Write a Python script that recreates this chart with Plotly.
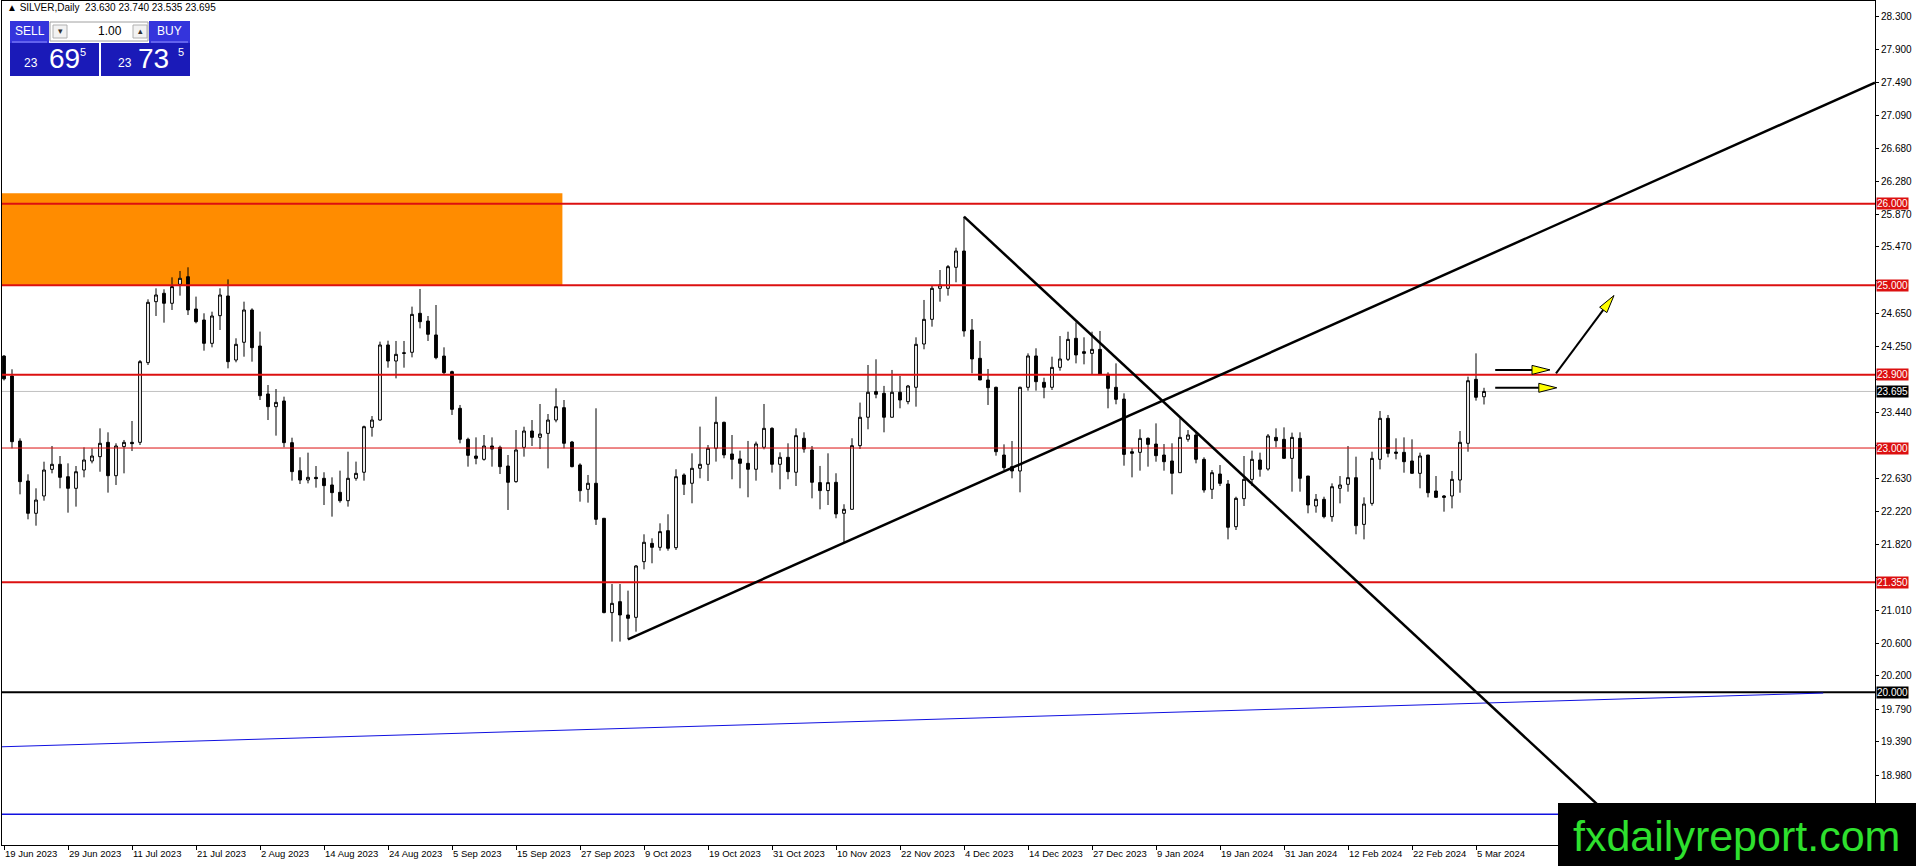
import plotly.graph_objects as go

# daily bars, bar 0 = 19 Jun 2023 ... bar 185 = 6 Mar 2024
opens = [
    24.130, 23.885, 23.086, 22.595, 22.198, 22.411, 22.738, 22.800, 22.648, 22.505,
    22.730, 22.841, 22.894, 23.070, 22.660, 23.017, 23.070, 23.070, 24.049, 24.798,
    24.901, 24.778, 25.011, 25.105, 24.708, 24.573, 24.286, 24.626, 24.868, 24.081,
    24.299, 24.696, 24.253, 23.664, 23.508, 23.578, 23.066, 22.722, 22.607, 22.640,
    22.628, 22.546, 22.456, 22.353, 22.628, 22.702, 23.254, 23.344, 24.266, 24.069,
    24.171, 24.176, 24.655, 24.560, 24.389, 24.130, 23.938, 23.488, 23.107, 22.902,
    22.861, 23.025, 23.008, 22.779, 22.587, 23.008, 23.209, 23.131, 23.180, 23.344,
    23.496, 23.074, 22.792, 22.493, 22.567, 22.137, 20.978, 21.113, 20.949, 20.920,
    21.604, 21.829, 21.780, 21.985, 21.776, 22.669, 22.567, 22.751, 22.800, 22.997,
    23.316, 22.927, 22.866, 22.812, 22.739, 23.009, 23.242, 22.800, 22.886, 22.702,
    23.120, 22.976, 22.575, 22.477, 22.579, 22.198, 22.247, 23.029, 23.378, 23.693,
    23.672, 23.378, 23.685, 23.570, 23.746, 24.278, 24.581, 24.962, 24.962, 25.220,
    25.420, 24.450, 24.102, 23.836, 23.746, 22.914, 22.771, 22.718, 23.746, 24.131,
    23.807, 23.746, 23.991, 24.090, 24.348, 24.184, 24.163, 24.212, 23.905, 23.746,
    23.602, 22.955, 22.947, 23.119, 23.049, 22.914, 22.841, 22.697, 23.107, 23.160,
    22.861, 22.493, 22.681, 22.558, 22.034, 22.378, 22.615, 22.853, 22.742, 23.131,
    23.107, 22.873, 23.119, 22.656, 22.288, 22.370, 22.157, 22.505, 22.554, 22.636,
    22.062, 22.320, 22.861, 23.365, 22.951, 22.947, 22.841, 22.689, 22.914, 22.472,
    22.411, 22.411, 22.607, 23.058, 23.844, 23.630,
]
highs = [
    24.140, 23.967, 23.119, 22.677, 22.505, 22.832, 23.025, 22.902, 22.812, 22.779,
    23.008, 22.996, 23.242, 23.193, 23.058, 23.099, 23.332, 24.081, 24.827, 24.962,
    24.950, 25.097, 25.175, 25.220, 24.860, 24.655, 24.675, 24.962, 25.072, 24.348,
    24.798, 24.716, 24.430, 23.774, 23.725, 23.631, 23.127, 22.886, 22.943, 22.779,
    22.702, 22.640, 22.722, 22.955, 22.833, 23.275, 23.393, 24.307, 24.319, 24.315,
    24.315, 24.737, 24.954, 24.622, 24.757, 24.237, 23.950, 23.529, 23.127, 23.131,
    23.160, 23.131, 23.029, 22.914, 23.221, 23.262, 23.344, 23.541, 23.418, 23.733,
    23.590, 23.087, 22.812, 22.669, 23.488, 22.137, 21.330, 21.330, 21.248, 21.563,
    21.940, 21.891, 22.075, 22.186, 22.739, 22.689, 22.935, 23.263, 23.037, 23.631,
    23.324, 23.160, 22.968, 23.087, 23.079, 23.541, 23.255, 22.947, 23.058, 23.242,
    23.193, 23.025, 22.780, 22.935, 22.690, 22.309, 23.120, 23.558, 24.020, 24.090,
    23.763, 23.959, 23.885, 23.775, 24.360, 24.819, 24.991, 25.187, 25.248, 25.461,
    25.842, 24.585, 24.315, 23.971, 23.754, 23.045, 23.086, 23.754, 24.163, 24.225,
    23.864, 24.122, 24.376, 24.429, 24.544, 24.360, 24.429, 24.438, 23.930, 24.040,
    23.672, 22.996, 23.230, 23.131, 23.303, 23.049, 23.058, 23.365, 23.221, 23.201,
    22.886, 22.730, 22.791, 22.607, 22.402, 22.902, 22.968, 22.943, 23.172, 23.242,
    23.254, 23.189, 23.193, 22.656, 22.435, 22.402, 22.566, 22.656, 23.025, 22.894,
    22.394, 22.955, 23.455, 23.406, 23.119, 23.131, 23.107, 22.943, 22.914, 22.656,
    22.423, 22.718, 23.209, 23.877, 24.163, 23.740,
]
lows = [
    23.830, 22.996, 22.431, 22.124, 22.046, 22.353, 22.689, 22.505, 22.206, 22.280,
    22.640, 22.812, 22.709, 22.452, 22.546, 22.689, 22.963, 23.037, 24.020, 24.622,
    24.540, 24.696, 24.872, 24.634, 24.532, 24.196, 24.237, 24.450, 23.979, 24.053,
    24.122, 24.061, 23.590, 23.344, 23.152, 23.009, 22.599, 22.558, 22.566, 22.513,
    22.300, 22.157, 22.329, 22.280, 22.599, 22.599, 23.140, 23.336, 23.987, 23.856,
    23.987, 24.114, 24.470, 24.315, 24.090, 23.909, 23.406, 23.058, 22.771, 22.800,
    22.845, 22.771, 22.681, 22.239, 22.574, 22.894, 23.025, 22.988, 22.750, 23.316,
    22.997, 22.763, 22.341, 22.329, 22.055, 20.970, 20.622, 20.622, 20.650, 20.744,
    21.510, 21.584, 21.739, 21.739, 21.748, 22.423, 22.321, 22.628, 22.595, 22.833,
    22.874, 22.616, 22.505, 22.395, 22.599, 22.984, 22.698, 22.493, 22.616, 22.534,
    22.943, 22.382, 22.247, 22.300, 22.137, 21.838, 22.247, 22.988, 23.230, 23.611,
    23.193, 23.378, 23.488, 23.537, 23.508, 24.213, 24.491, 24.798, 24.872, 25.036,
    24.368, 23.918, 23.836, 23.529, 22.906, 22.730, 22.628, 22.456, 23.705, 23.705,
    23.611, 23.713, 23.950, 24.069, 24.040, 24.028, 23.897, 23.905, 23.488, 23.537,
    22.783, 22.640, 22.722, 22.771, 22.832, 22.722, 22.431, 22.697, 23.078, 22.812,
    22.452, 22.374, 22.533, 21.878, 21.993, 22.288, 22.533, 22.648, 22.722, 23.009,
    22.873, 22.464, 22.464, 22.198, 22.206, 22.136, 22.095, 22.320, 22.464, 21.940,
    21.878, 22.292, 22.738, 22.886, 22.861, 22.697, 22.689, 22.505, 22.394, 22.394,
    22.218, 22.259, 22.451, 22.955, 23.582, 23.535,
]
closes = [
    23.850, 23.078, 22.587, 22.198, 22.361, 22.730, 22.800, 22.640, 22.505, 22.709,
    22.853, 22.902, 23.058, 22.660, 23.025, 23.070, 23.054, 24.061, 24.790, 24.880,
    24.778, 24.983, 25.085, 24.696, 24.552, 24.286, 24.622, 24.880, 24.061, 24.274,
    24.696, 24.233, 23.643, 23.508, 23.561, 23.066, 22.710, 22.607, 22.640, 22.624,
    22.538, 22.452, 22.353, 22.628, 22.689, 23.262, 23.344, 24.266, 24.069, 24.151,
    24.163, 24.642, 24.552, 24.397, 24.110, 23.926, 23.475, 23.107, 22.910, 22.873,
    23.025, 22.988, 22.771, 22.579, 22.976, 23.209, 23.131, 23.172, 23.344, 23.508,
    23.058, 22.771, 22.476, 22.567, 22.124, 20.978, 21.092, 20.949, 20.908, 21.551,
    21.842, 21.780, 21.973, 21.768, 22.648, 22.554, 22.751, 22.800, 22.997, 23.316,
    22.915, 22.861, 22.812, 22.739, 23.050, 23.242, 22.800, 22.886, 22.710, 23.152,
    22.988, 22.579, 22.477, 22.575, 22.190, 22.247, 23.029, 23.378, 23.685, 23.660,
    23.378, 23.685, 23.590, 23.762, 24.274, 24.581, 24.962, 25.003, 25.228, 25.420,
    24.438, 24.094, 23.836, 23.742, 22.955, 22.759, 22.718, 23.746, 24.131, 23.815,
    23.746, 23.991, 24.094, 24.335, 24.143, 24.163, 24.212, 23.905, 23.733, 23.598,
    22.922, 22.935, 23.119, 23.045, 22.906, 22.832, 22.689, 23.131, 23.160, 22.861,
    22.484, 22.697, 22.566, 22.026, 22.382, 22.615, 22.861, 22.738, 23.148, 23.090,
    22.873, 23.131, 22.628, 22.300, 22.370, 22.157, 22.525, 22.546, 22.636, 22.046,
    22.312, 22.873, 23.365, 22.935, 22.935, 22.832, 22.689, 22.902, 22.451, 22.394,
    22.394, 22.615, 23.070, 23.827, 23.623, 23.695,
]

date_labels = [
    "19 Jun 2023", "29 Jun 2023", "11 Jul 2023", "21 Jul 2023", "2 Aug 2023",
    "14 Aug 2023", "24 Aug 2023", "5 Sep 2023", "15 Sep 2023", "27 Sep 2023",
    "9 Oct 2023", "19 Oct 2023", "31 Oct 2023", "10 Nov 2023", "22 Nov 2023",
    "4 Dec 2023", "14 Dec 2023", "27 Dec 2023", "9 Jan 2024", "19 Jan 2024",
    "31 Jan 2024", "12 Feb 2024", "22 Feb 2024", "5 Mar 2024",
]
# price scale labels; the ones sitting under the level boxes stay unlabelled
price_ticks = [28.300, 27.900, 27.490, 27.090, 26.680, 26.280, 25.870, 25.470,
               25.060, 24.650, 24.250, 23.840, 23.440, 23.030, 22.630, 22.220,
               21.820, 21.410, 21.010, 20.600, 20.200, 19.790, 19.390, 18.980]
covered_ticks = [25.060, 23.840, 23.030, 21.410]

# horizontal levels drawn on the chart
red_levels = [26.000, 25.000, 23.900, 21.350]
thin_red_levels = [23.000]
black_level = 20.000
blue_level = 18.500
bid = 23.695

# zone and trend lines (bar index, price)
zone = (69.8, 25.000, 26.130)
up_trend = [(78, 20.650), (233.875, 27.490)]
down_trend = [(120, 25.842), (215, 17.178)]
blue_trend = [(-0.25, 19.330), (227.4, 19.990)]
arrows = [
    [(186.4, 23.960), (193.25, 23.960)],
    [(186.4, 23.740), (194.1, 23.740)],
    [(194.0, 23.917), (201.25, 24.874)],
]

W, H = 1916, 866
ML, MR, MT, MB = 2, 41, 1, 21
x_range = [-0.25, 233.875]
y_range = [18.1233, 28.4916]
PX_X = (W - ML - MR) / (x_range[1] - x_range[0])
PX_Y = (H - MT - MB) / (y_range[1] - y_range[0])

RED = "#dc1010"
FONT = "Liberation Sans, Arial, sans-serif"


def fx(px):
    return (px - ML) / (W - ML - MR)


def fy(py):
    return (H - MB - py) / (H - MT - MB)


fig = go.Figure()
fig.add_trace(go.Candlestick(
    x=list(range(len(opens))), open=opens, high=highs, low=lows, close=closes,
    increasing=dict(line=dict(color="black", width=1), fillcolor="white"),
    decreasing=dict(line=dict(color="black", width=1), fillcolor="black"),
    whiskerwidth=0, hoverinfo="skip", showlegend=False,
))

shapes = []
# supply zone
shapes.append(dict(type="rect", xref="x", yref="y", x0=x_range[0], x1=zone[0],
                   y0=zone[1], y1=zone[2], fillcolor="#ff8c00", line_width=0,
                   layer="below"))
# bid line
shapes.append(dict(type="line", xref="x", yref="y", x0=x_range[0], x1=x_range[1],
                   y0=bid, y1=bid, line=dict(color="#c0c0c0", width=1), layer="below"))
for lv in red_levels:
    shapes.append(dict(type="line", xref="x", yref="y", x0=x_range[0], x1=x_range[1],
                       y0=lv, y1=lv, line=dict(color=RED, width=2)))
for lv in thin_red_levels:
    shapes.append(dict(type="line", xref="x", yref="y", x0=x_range[0], x1=x_range[1],
                       y0=lv, y1=lv, line=dict(color=RED, width=1)))
shapes.append(dict(type="line", xref="x", yref="y", x0=x_range[0], x1=x_range[1],
                   y0=black_level, y1=black_level, line=dict(color="black", width=2)))
shapes.append(dict(type="line", xref="x", yref="y", x0=x_range[0], x1=x_range[1],
                   y0=blue_level, y1=blue_level, line=dict(color="#1010e0", width=1.5)))
shapes.append(dict(type="line", xref="x", yref="y",
                   x0=blue_trend[0][0], y0=blue_trend[0][1],
                   x1=blue_trend[1][0], y1=blue_trend[1][1],
                   line=dict(color="#1010e0", width=1)))
for (a, b) in (up_trend, down_trend):
    shapes.append(dict(type="line", xref="x", yref="y", x0=a[0], y0=a[1],
                       x1=b[0], y1=b[1], line=dict(color="black", width=2.5)))

# arrows: black shaft + yellow head
for (tail, tip) in arrows:
    dx = (tip[0] - tail[0]) * PX_X
    dy = (tip[1] - tail[1]) * PX_Y
    ln = (dx * dx + dy * dy) ** 0.5
    ux, uy = dx / ln, dy / ln
    head, half = 18, 4.5
    bx = tip[0] - ux * head / PX_X
    by = tip[1] - uy * head / PX_Y
    lx, ly = bx - uy * half / PX_X, by + ux * half / PX_Y
    rx, ry = bx + uy * half / PX_X, by - ux * half / PX_Y
    shapes.append(dict(type="line", xref="x", yref="y", x0=tail[0], y0=tail[1],
                       x1=bx, y1=by, line=dict(color="black", width=2)))
    shapes.append(dict(type="path", xref="x", yref="y",
                       path=f"M {tip[0]},{tip[1]} L {lx},{ly} L {rx},{ry} Z",
                       fillcolor="#ffff00", line=dict(color="black", width=1)))

# trade panel (top left)
panel = [
    (10, 21, 49, 43, "#3434dc"), (149, 21, 190, 43, "#3434dc"),
    (10, 43, 99, 76, "#1a1ab8"), (101, 43, 190, 76, "#1a1ab8"),
]
for (x0, y0, x1, y1, c) in panel:
    shapes.append(dict(type="rect", xref="paper", yref="paper", x0=fx(x0), x1=fx(x1),
                       y0=fy(y1), y1=fy(y0), fillcolor=c, line_width=0))
shapes.append(dict(type="rect", xref="paper", yref="paper", x0=fx(50), x1=fx(148),
                   y0=fy(41), y1=fy(22), fillcolor="white",
                   line=dict(color="#a0a0a0", width=1)))
for (x0, x1) in [(53, 67), (133, 147)]:
    shapes.append(dict(type="rect", xref="paper", yref="paper", x0=fx(x0), x1=fx(x1),
                       y0=fy(38), y1=fy(25), fillcolor="#f2f2f2",
                       line=dict(color="#b0b0b0", width=1)))
for (x0, x1) in [(12, 47), (151, 188)]:
    shapes.append(dict(type="line", xref="paper", yref="paper", x0=fx(x0), x1=fx(x1),
                       y0=fy(42), y1=fy(42), line=dict(color="#9090ff", width=1)))

# logo box
shapes.append(dict(type="rect", xref="paper", yref="paper", x0=fx(1558), x1=fx(W + 2),
                   y0=fy(H + 2), y1=fy(803), fillcolor="black", line_width=0))

ann = []
for lv in red_levels + thin_red_levels:
    ann.append(dict(xref="paper", yref="y", x=1, y=lv, xanchor="left", yanchor="middle",
                    xshift=1, text=f"{lv:.3f}", showarrow=False, bgcolor=RED,
                    borderpad=0, font=dict(family=FONT, size=10, color="white")))
ann.append(dict(xref="paper", yref="y", x=1, y=black_level, xanchor="left",
                yanchor="middle", xshift=1, text=f"{black_level:.3f}", showarrow=False,
                bgcolor="black", borderpad=0, font=dict(family=FONT, size=10, color="white")))
ann.append(dict(xref="paper", yref="y", x=1, y=bid, xanchor="left",
                yanchor="middle", xshift=1, text=f"{bid:.3f}", showarrow=False,
                bgcolor="black", borderpad=0, font=dict(family=FONT, size=10, color="white")))


def txt(px, py, s, size, color="white", anchor="center"):
    ann.append(dict(xref="paper", yref="paper", x=fx(px), y=fy(py), xanchor=anchor,
                    yanchor="middle", text=s, showarrow=False,
                    font=dict(family=FONT, size=size, color=color)))


txt(5, 8, "▲ SILVER,Daily&nbsp;&nbsp;23.630 23.740 23.535 23.695", 10, "black", "left")
txt(29.5, 31, "SELL", 12)
txt(169.5, 31, "BUY", 12)
txt(124, 31, "1.00", 12, "black", "right")
txt(60, 31, "▾", 9, "#303030")
txt(140, 31, "▴", 9, "#303030")
txt(40, 63, "23", 12, anchor="right")
txt(47, 59, "69", 28, anchor="left")
txt(78, 52, "5", 11, anchor="left")
txt(134, 63, "23", 12, anchor="right")
txt(136, 59, "73", 28, anchor="left")
txt(176, 52, "5", 11, anchor="left")
txt(1736, 836, "fxdailyreport.com", 43, "#2ee02e")

fig.update_layout(
    width=W, height=H, margin=dict(l=ML, r=MR, t=MT, b=MB, autoexpand=False),
    plot_bgcolor="white", paper_bgcolor="white", showlegend=False,
    boxgap=0.5, shapes=shapes, annotations=ann,
    font=dict(family=FONT, size=10, color="black"),
    xaxis=dict(range=x_range, showgrid=False, zeroline=False, showline=True,
               linecolor="black", linewidth=1, mirror=True, ticks="outside",
               ticklen=4, tickcolor="black",
               tickvals=[8 * i for i in range(len(date_labels))], ticktext=date_labels,
               ticklabelposition="outside right", tickfont=dict(size=9.5),
               rangeslider=dict(visible=False), automargin=False, fixedrange=True),
    yaxis=dict(range=y_range, side="right", showgrid=False, zeroline=False,
               showline=True, linecolor="black", linewidth=1, mirror=True,
               ticks="outside", ticklen=3, tickcolor="black", tickvals=price_ticks,
               ticktext=["" if v in covered_ticks else f"{v:.3f}" for v in price_ticks],
               tickfont=dict(size=10), automargin=False, fixedrange=True),
)

fig.write_html("out.html", config={"displayModeBar": False},
               post_script="document.body.style.margin='0';document.body.style.overflow='hidden';")
